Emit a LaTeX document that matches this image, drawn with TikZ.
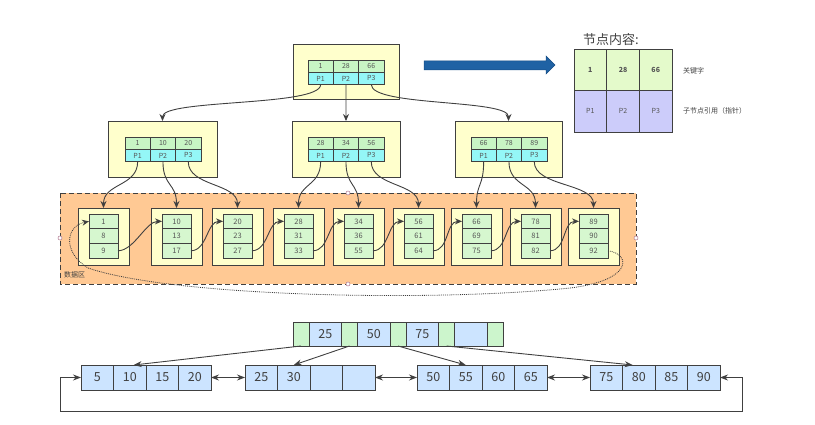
\documentclass[tikz,border=0pt]{standalone}
\usepackage{fontspec}
\setmainfont{Noto Sans CJK SC}
\usetikzlibrary{arrows.meta}
\definecolor{yel}{HTML}{FFFFCC}
\definecolor{kgreen}{HTML}{C8F5C4}
\definecolor{pcyan}{HTML}{94F7F7}
\definecolor{lgreen}{HTML}{D6F7CF}
\definecolor{orng}{HTML}{FFC994}
\definecolor{lgk}{HTML}{E4FACB}
\definecolor{lgp}{HTML}{CCCCFA}
\definecolor{bblue}{HTML}{CCE4FF}
\definecolor{bgreen}{HTML}{CCF5CC}
\definecolor{lineg}{HTML}{404040}
\definecolor{txtg}{HTML}{555555}
\definecolor{arrb}{HTML}{1F62A4}
\definecolor{arrbd}{HTML}{174E85}
\definecolor{hdl}{HTML}{B07890}

\newcommand\ptab[6]{%
  \node[kc,anchor=north west] (#1k1) at (#2,#3) {#4};
  \node[kc,anchor=west] (#1k2) at (#1k1.east) {#5};
  \node[kc,anchor=west] (#1k3) at (#1k2.east) {#6};
  \node[pc,anchor=north] (#1p1) at (#1k1.south) {P1};
  \node[pc,anchor=north] (#1p2) at (#1k2.south) {P2};
  \node[pc,anchor=north] (#1p3) at (#1k3.south) {P3};
}
\newcommand\leafbox[5]{%
  \node[ybox,anchor=north west,minimum width=51pt,minimum height=57pt] (#1) at (#2,208) {};
  \node[lc,anchor=north west] (#1a) at (#2+11,214) {#3};
  \node[lc,anchor=north] (#1b) at (#1a.south) {#4};
  \node[lc,anchor=north] (#1c) at (#1b.south) {#5};
}
\newcommand\bleaf[6]{%
  \node[bc,anchor=west] (#1a) at (#2,377.5) {#3};
  \node[bc,anchor=west] (#1b) at (#1a.east) {#4};
  \node[bc,anchor=west] (#1c) at (#1b.east) {#5};
  \node[bc,anchor=west] (#1d) at (#1c.east) {#6};
}

\begin{document}
\begin{tikzpicture}[x=1pt,y=-1pt,
  ybox/.style={draw=lineg,fill=yel,line width=0.8pt,inner sep=0pt,outer sep=0pt},
  kc/.style={draw=lineg,fill=kgreen,line width=0.7pt,minimum width=25.3pt,minimum height=12.3pt,inner sep=0pt,outer sep=0pt,text=txtg,font=\fontsize{7}{7}\selectfont},
  pc/.style={kc,fill=pcyan},
  lc/.style={draw=lineg,fill=lgreen,line width=0.7pt,minimum width=29pt,minimum height=14.7pt,inner sep=0pt,outer sep=0pt,text=txtg,font=\fontsize{7.5}{8}\selectfont},
  conn/.style={draw=lineg,line width=0.9pt,-{Stealth[length=7pt,width=6pt]}},
  bc/.style={draw=lineg,fill=bblue,line width=0.8pt,minimum width=32.5pt,minimum height=25pt,inner sep=0pt,outer sep=0pt,text=lineg,font=\fontsize{12.5}{13}\selectfont},
  rbc/.style={bc,minimum height=24pt},
  gc/.style={bc,fill=bgreen,minimum width=16pt,minimum height=24pt},
  bconn/.style={draw=lineg,line width=0.9pt,-{Stealth[length=8pt,width=6pt]}},
  dconn/.style={draw=lineg,line width=0.9pt,{Stealth[length=8pt,width=6pt]}-{Stealth[length=8pt,width=6pt]}},
  legk/.style={draw=lineg,fill=lgk,line width=0.8pt,minimum width=32.7pt,minimum height=41.5pt,inner sep=0pt,outer sep=0pt,text=txtg,font=\fontsize{7}{7}\selectfont\bfseries},
  legp/.style={legk,fill=lgp,font=\fontsize{7}{7}\selectfont},
  small/.style={font=\fontsize{7}{7}\selectfont,text=lineg,inner sep=0pt},
  hcirc/.style={draw=hdl,fill=white,line width=0.5pt}
]
\useasboundingbox (0,0) rectangle (815,425);

% ---------- upper tree ----------
\node[ybox,anchor=north west,minimum width=106pt,minimum height=55pt] (R) at (293,44) {};
\ptab{r}{308}{60}{1}{28}{66}
\node[ybox,anchor=north west,minimum width=109pt,minimum height=56pt] (A) at (108,121) {};
\ptab{a}{125}{137}{1}{10}{20}
\node[ybox,anchor=north west,minimum width=108pt,minimum height=56pt] (B) at (292,121) {};
\ptab{b}{308}{137}{28}{34}{56}
\node[ybox,anchor=north west,minimum width=107pt,minimum height=56pt] (C) at (455,121) {};
\ptab{c}{471}{137}{66}{78}{89}

\draw[conn] (rp1.south) .. controls +(0,22) and +(0,-22) .. (A.north);
\draw[conn] (rp2.south) -- (B.north);
\draw[conn] (rp3.south) .. controls +(0,22) and +(0,-22) .. (C.north);

% ---------- data area ----------
\fill[orng] (60,193) rectangle (636,284);
\draw[lineg,line width=0.9pt,dash pattern=on 5pt off 3pt] (60,193) rectangle (636,284);
\node[small,anchor=west] (dlabel) at (64,275) {数据区};

\leafbox{L1}{78}{1}{8}{9}
\leafbox{L2}{151}{10}{13}{17}
\leafbox{L3}{212}{20}{23}{27}
\leafbox{L4}{273}{28}{31}{33}
\leafbox{L5}{333}{34}{36}{55}
\leafbox{L6}{393}{56}{61}{64}
\leafbox{L7}{451}{66}{69}{75}
\leafbox{L8}{510}{78}{81}{82}
\leafbox{L9}{568}{89}{90}{92}

\draw[conn] (ap1.south) .. controls +(0,25) and +(0,-25) .. (L1.north);
\draw[conn] (ap2.south) .. controls +(0,25) and +(0,-25) .. (L2.north);
\draw[conn] (ap3.south) .. controls +(0,25) and +(0,-25) .. (L3.north);
\draw[conn] (bp1.south) .. controls +(0,25) and +(0,-25) .. (L4.north);
\draw[conn] (bp2.south) .. controls +(0,25) and +(0,-25) .. (L5.north);
\draw[conn] (bp3.south) .. controls +(0,25) and +(0,-25) .. (L6.north);
\draw[conn] (cp1.south) .. controls +(0,25) and +(0,-25) .. (L7.north);
\draw[conn] (cp2.south) .. controls +(0,25) and +(0,-25) .. (L8.north);
\draw[conn] (cp3.south) .. controls +(0,25) and +(0,-25) .. (L9.north);

\foreach \p/\q in {L1/L2,L2/L3,L3/L4,L4/L5,L5/L6,L6/L7,L7/L8,L8/L9}
  \draw[conn] (\p c.east) .. controls +(16,0) and +(-16,0) .. (\q a.west);

\coordinate (dotR) at (560,289);
\coordinate (dotL) at (88,268);
\draw[conn,densely dotted,line width=0.8pt] (L9c.east) .. controls (632,254) and (634,283) .. (dotR)
  .. controls (420,302) and (170,296) .. (dotL)
  .. controls (62,252) and (66,226) .. (L1a.west);

\draw[hcirc] (60,238) circle (2pt);
\draw[hcirc] (636,238) circle (2pt);
\draw[hcirc] (348,193) circle (2pt);
\draw[hcirc] (348,284) circle (2pt);

% ---------- big arrow ----------
\fill[arrb,draw=arrbd,line width=0.5pt] (424,61) -- (546,61) -- (546,56) -- (555,65) -- (546,74) -- (546,70) -- (424,70) -- cycle;

% ---------- legend ----------
\node[font=\fontsize{13}{14}\selectfont,text=lineg,inner sep=0pt,anchor=west] (ltitle) at (583,40) {节点内容:};
\node[legk,anchor=north west] (g1) at (574,49) {1};
\node[legk,anchor=west] (g2) at (g1.east) {28};
\node[legk,anchor=west] (g3) at (g2.east) {66};
\node[legp,anchor=north] (h1) at (g1.south) {P1};
\node[legp,anchor=north] (h2) at (g2.south) {P2};
\node[legp,anchor=north] (h3) at (g3.south) {P3};
\node[small,anchor=west] (lk) at (683,71) {关键字};
\node[small,anchor=west] (lp) at (683,111) {子节点引用（指针）};

% ---------- lower B+ tree ----------
\node[gc,anchor=west] (t1) at (293,334) {};
\node[rbc,anchor=west] (t2) at (t1.east) {25};
\node[gc,anchor=west] (t3) at (t2.east) {};
\node[rbc,anchor=west] (t4) at (t3.east) {50};
\node[gc,anchor=west] (t5) at (t4.east) {};
\node[rbc,anchor=west] (t6) at (t5.east) {75};
\node[gc,anchor=west] (t7) at (t6.east) {};
\node[rbc,anchor=west] (t8) at (t7.east) {};
\node[gc,anchor=west] (t9) at (t8.east) {};

\bleaf{B1}{81}{5}{10}{15}{20}
\bleaf{B2}{245}{25}{30}{}{}
\bleaf{B3}{417}{50}{55}{60}{65}
\bleaf{B4}{590}{75}{80}{85}{90}

\draw[bconn] (t1.south) -- ([xshift=4pt]B1b.north);
\draw[bconn] (t3.south) -- (B2b.north);
\draw[bconn] (t5.south) -- (B3b.north);
\draw[bconn] (t7.south) -- ([xshift=-6pt]B4b.north);

\draw[dconn] (B1d.east) -- (B2a.west);
\draw[dconn] (B2d.east) -- (B3a.west);
\draw[dconn] (B3d.east) -- (B4a.west);

\coordinate (loopL) at (60,411);
\coordinate (loopR) at (742,411);
\draw[dconn] (B1a.west) -| (loopL) -- (loopR) |- (B4d.east);
\end{tikzpicture}
\end{document}
